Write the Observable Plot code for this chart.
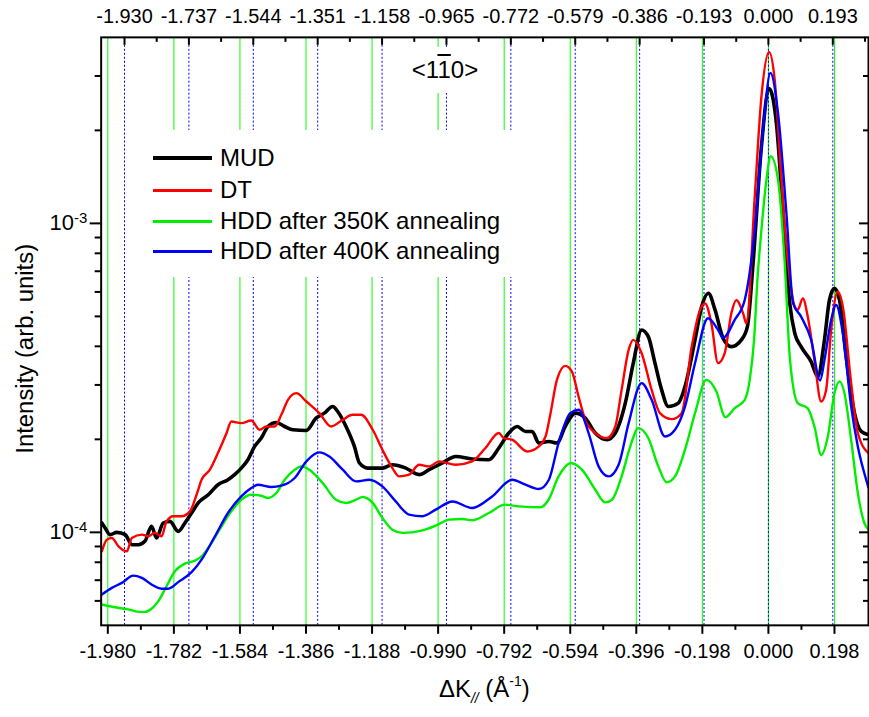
<!DOCTYPE html>
<html>
<head>
<meta charset="utf-8">
<script src="https://cdn.jsdelivr.net/npm/d3@7"></script>
<script src="https://cdn.jsdelivr.net/npm/@observablehq/plot@0.6"></script>
<style>
  html, body { margin: 0; padding: 0; background: #fff; overflow: hidden; }
  #wrap { position: relative; width: 869px; height: 717px; overflow: hidden;
          font-family: Arial, "Liberation Sans", sans-serif; color: #000; }
  #legend { position: absolute; left: 140px; top: 130px; width: 390px; height: 147px; background: #fff; }
  #legend .row { position: absolute; left: 0; height: 30px; display: flex; align-items: center; font-size: 24px; }
  #legend .sw { display: inline-block; width: 59px; margin-left: 13px; margin-right: 8px; }
  #dir { position: absolute; left: 400px; top: 47px; width: 90px; height: 46px; background: #fff;
         font-size: 24px; line-height: 46px; text-align: center; }
  #dir .bar { text-decoration: overline; }
</style>
</head>
<body>
<div id="wrap"></div>
<script>
// ΔK∥ (Å⁻¹) vs intensity profiles along <1-10>
const mud = [
  [-1.998,1.072e-4],[-1.988,1.033e-4],[-1.973,9.83e-5],[-1.953,1.0e-4],[-1.928,9.83e-5],[-1.908,9.12e-5],
  [-1.889,9.12e-5],[-1.869,9.35e-5],[-1.849,1.046e-4],[-1.834,9.59e-5],[-1.814,1.072e-4],[-1.794,1.085e-4],
  [-1.769,1.007e-4],[-1.749,1.072e-4],[-1.729,1.155e-4],[-1.709,1.245e-4],[-1.679,1.323e-4],[-1.650,1.426e-4],
  [-1.620,1.480e-4],[-1.600,1.537e-4],[-1.580,1.614e-4],[-1.560,1.718e-4],[-1.540,1.897e-4],[-1.520,2.019e-4],
  [-1.500,2.201e-4],[-1.475,2.267e-4],[-1.450,2.201e-4],[-1.425,2.148e-4],[-1.385,2.137e-4],[-1.356,2.343e-4],
  [-1.331,2.431e-4],[-1.306,2.553e-4],[-1.291,2.461e-4],[-1.266,2.201e-4],[-1.241,1.897e-4],[-1.226,1.677e-4],
  [-1.201,1.614e-4],[-1.157,1.614e-4],[-1.127,1.655e-4],[-1.087,1.614e-4],[-1.047,1.537e-4],[-1.017,1.595e-4],
  [-0.977,1.677e-4],[-0.937,1.760e-4],[-0.888,1.727e-4],[-0.838,1.718e-4],[-0.808,1.875e-4],[-0.778,2.096e-4],
  [-0.753,2.201e-4],[-0.728,2.121e-4],[-0.708,2.121e-4],[-0.688,1.945e-4],[-0.658,1.969e-4],[-0.634,1.945e-4],
  [-0.609,2.201e-4],[-0.579,2.431e-4],[-0.549,2.343e-4],[-0.519,2.096e-4],[-0.484,1.994e-4],[-0.459,2.096e-4],
  [-0.429,2.62e-4],[-0.405,3.528e-4],[-0.380,4.519e-4],[-0.360,4.30e-4],[-0.340,3.528e-4],[-0.320,2.891e-4],
  [-0.300,2.553e-4],[-0.270,2.62e-4],[-0.250,2.963e-4],[-0.220,4.196e-4],[-0.200,5.38e-4],[-0.180,5.94e-4],
  [-0.160,5.25e-4],[-0.136,4.25e-4],[-0.111,3.99e-4],[-0.081,4.196e-4],[-0.063,4.63e-4],[-0.046,7.42e-4],
  [-0.021,1.769e-3],[0.002,2.731e-3],[0.024,2.105e-3],[0.044,1.077e-3],[0.064,5.51e-4],[0.079,4.41e-4],
  [0.098,3.99e-4],[0.128,3.57e-4],[0.148,3.19e-4],[0.168,4.196e-4],[0.183,5.65e-4],[0.198,6.16e-4],
  [0.213,5.65e-4],[0.233,3.705e-4],[0.258,2.431e-4],[0.278,2.121e-4],[0.300,2.07e-4]
];

const dt = [
  [-1.998,8.68e-5],[-1.983,9.47e-5],[-1.968,9.59e-5],[-1.948,9.01e-5],[-1.923,8.68e-5],[-1.908,9.59e-5],
  [-1.878,9.83e-5],[-1.859,9.71e-5],[-1.839,9.96e-5],[-1.819,9.71e-5],[-1.804,1.085e-4],[-1.784,1.127e-4],
  [-1.759,1.127e-4],[-1.734,1.169e-4],[-1.714,1.323e-4],[-1.699,1.480e-4],[-1.674,1.595e-4],[-1.650,1.805e-4],
  [-1.624,2.096e-4],[-1.610,2.284e-4],[-1.580,2.257e-4],[-1.550,2.301e-4],[-1.525,2.148e-4],[-1.505,2.201e-4],
  [-1.480,2.201e-4],[-1.460,2.401e-4],[-1.440,2.684e-4],[-1.415,2.822e-4],[-1.385,2.651e-4],[-1.346,2.431e-4],
  [-1.311,2.201e-4],[-1.276,2.313e-4],[-1.246,2.401e-4],[-1.221,2.401e-4],[-1.186,2.148e-4],[-1.157,1.851e-4],
  [-1.127,1.614e-4],[-1.107,1.517e-4],[-1.077,1.537e-4],[-1.047,1.655e-4],[-1.017,1.635e-4],[-0.987,1.697e-4],
  [-0.937,1.655e-4],[-0.888,1.697e-4],[-0.848,1.875e-4],[-0.808,2.096e-4],[-0.793,2.019e-4],[-0.768,1.994e-4],
  [-0.723,1.827e-4],[-0.688,1.897e-4],[-0.668,2.043e-4],[-0.653,2.431e-4],[-0.634,3.114e-4],[-0.609,3.457e-4],
  [-0.589,3.313e-4],[-0.569,2.752e-4],[-0.549,2.313e-4],[-0.519,2.096e-4],[-0.484,2.019e-4],[-0.459,2.201e-4],
  [-0.440,2.891e-4],[-0.419,3.894e-4],[-0.405,4.196e-4],[-0.380,3.80e-4],[-0.350,2.891e-4],[-0.325,2.431e-4],
  [-0.290,2.325e-4],[-0.260,2.431e-4],[-0.230,3.99e-4],[-0.205,5.25e-4],[-0.190,5.51e-4],[-0.171,4.75e-4],
  [-0.151,3.528e-4],[-0.131,3.80e-4],[-0.111,5.12e-4],[-0.096,5.65e-4],[-0.076,5.12e-4],[-0.066,4.75e-4],
  [-0.041,1.219e-3],[-0.021,2.566e-3],[0.002,3.586e-3],[0.019,2.905e-3],[0.039,1.380e-3],[0.059,7.42e-4],
  [0.079,5.38e-4],[0.088,5.25e-4],[0.103,5.72e-4],[0.118,4.99e-4],[0.138,3.61e-4],[0.158,2.651e-4],
  [0.173,2.891e-4],[0.188,4.519e-4],[0.208,6.01e-4],[0.223,5.38e-4],[0.248,3.04e-4],[0.268,2.096e-4],
  [0.300,1.805e-4]
];

const hdd350 = [
  [-1.998,5.84e-5],[-1.958,5.72e-5],[-1.918,5.63e-5],[-1.889,5.53e-5],[-1.869,5.53e-5],[-1.849,5.66e-5],
  [-1.829,5.98e-5],[-1.804,6.69e-5],[-1.779,7.48e-5],[-1.749,7.92e-5],[-1.719,8.10e-5],[-1.699,8.36e-5],
  [-1.669,9.24e-5],[-1.639,1.046e-4],[-1.610,1.169e-4],[-1.580,1.275e-4],[-1.550,1.323e-4],[-1.520,1.313e-4],
  [-1.500,1.291e-4],[-1.475,1.340e-4],[-1.450,1.480e-4],[-1.420,1.595e-4],[-1.400,1.635e-4],[-1.376,1.595e-4],
  [-1.336,1.444e-4],[-1.296,1.275e-4],[-1.266,1.245e-4],[-1.236,1.275e-4],[-1.216,1.301e-4],[-1.186,1.245e-4],
  [-1.157,1.113e-4],[-1.127,1.020e-4],[-1.097,9.96e-5],[-1.037,1.015e-4],[-0.997,1.051e-4],[-0.957,1.099e-4],
  [-0.918,1.105e-4],[-0.888,1.094e-4],[-0.838,1.155e-4],[-0.790,1.229e-4],[-0.748,1.213e-4],[-0.683,1.205e-4],
  [-0.659,1.275e-4],[-0.629,1.517e-4],[-0.592,1.677e-4],[-0.559,1.595e-4],[-0.519,1.374e-4],[-0.489,1.250e-4],
  [-0.469,1.275e-4],[-0.440,1.517e-4],[-0.414,1.897e-4],[-0.390,2.175e-4],[-0.360,2.019e-4],[-0.330,1.635e-4],
  [-0.305,1.451e-4],[-0.280,1.517e-4],[-0.250,1.851e-4],[-0.220,2.431e-4],[-0.186,3.114e-4],[-0.156,2.855e-4],
  [-0.129,2.360e-4],[-0.101,2.523e-4],[-0.071,2.684e-4],[-0.056,3.114e-4],[-0.043,4.20e-4],[-0.033,6.56e-4],
  [-0.021,9.51e-4],[-0.006,1.380e-3],[0.007,1.650e-3],[0.029,1.380e-3],[0.049,7.42e-4],[0.064,3.70e-4],
  [0.088,2.62e-4],[0.118,2.52e-4],[0.138,2.20e-4],[0.158,1.78e-4],[0.178,2.04e-4],[0.198,2.82e-4],
  [0.213,3.08e-4],[0.228,2.82e-4],[0.248,1.99e-4],[0.268,1.34e-4],[0.288,1.07e-4],[0.300,1.02e-4]
];

const hdd400 = [
  [-1.998,6.29e-5],[-1.968,6.61e-5],[-1.938,6.86e-5],[-1.904,7.24e-5],[-1.878,7.12e-5],[-1.849,6.78e-5],
  [-1.819,6.57e-5],[-1.799,6.57e-5],[-1.769,6.90e-5],[-1.729,7.43e-5],[-1.699,8.16e-5],[-1.659,9.71e-5],
  [-1.620,1.155e-4],[-1.580,1.307e-4],[-1.550,1.391e-4],[-1.530,1.426e-4],[-1.490,1.402e-4],[-1.460,1.416e-4],
  [-1.420,1.499e-4],[-1.385,1.697e-4],[-1.346,1.814e-4],[-1.316,1.760e-4],[-1.276,1.595e-4],[-1.236,1.462e-4],
  [-1.196,1.480e-4],[-1.157,1.408e-4],[-1.117,1.259e-4],[-1.077,1.141e-4],[-1.037,1.127e-4],[-0.997,1.184e-4],
  [-0.947,1.259e-4],[-0.888,1.199e-4],[-0.828,1.307e-4],[-0.768,1.480e-4],[-0.728,1.426e-4],[-0.688,1.381e-4],
  [-0.658,1.480e-4],[-0.629,1.945e-4],[-0.594,2.431e-4],[-0.569,2.492e-4],[-0.539,2.096e-4],[-0.509,1.635e-4],
  [-0.479,1.517e-4],[-0.449,1.655e-4],[-0.419,2.257e-4],[-0.380,3.040e-4],[-0.350,2.684e-4],[-0.310,2.043e-4],
  [-0.280,2.148e-4],[-0.250,2.553e-4],[-0.220,3.528e-4],[-0.181,4.93e-4],[-0.151,4.52e-4],[-0.136,4.26e-4],
  [-0.101,4.87e-4],[-0.071,5.65e-4],[-0.061,6.40e-4],[-0.041,9.51e-4],[-0.016,2.003e-3],[0.006,3.067e-3],
  [0.029,2.267e-3],[0.054,1.077e-3],[0.074,5.51e-4],[0.098,4.99e-4],[0.128,4.20e-4],[0.155,3.10e-4],
  [0.168,3.61e-4],[0.188,4.87e-4],[0.203,5.44e-4],[0.223,4.41e-4],[0.248,2.553e-4],[0.268,1.897e-4],
  [0.293,1.48e-4],[0.300,1.394e-4]
];

const seriesNames  = ["MUD", "DT", "HDD after 350K annealing", "HDD after 400K annealing"];
const seriesData   = [mud, dt, hdd350, hdd400];
const seriesColors = ["#000000", "#ff0000", "#00ee00", "#0000ff"];
const seriesWidths = [3.6, 2.4, 2.4, 2.4];

// axis ticks and reference lines
const bottomTicks = [-1.980, -1.782, -1.584, -1.386, -1.188, -0.990, -0.792, -0.594, -0.396, -0.198, 0.000, 0.198];
const bottomMinor = [-1.881, -1.683, -1.485, -1.287, -1.089, -0.891, -0.693, -0.495, -0.297, -0.099, 0.099];
const topTicks    = [-1.930, -1.737, -1.544, -1.351, -1.158, -0.965, -0.772, -0.579, -0.386, -0.193, 0.000, 0.193];
const topMinor    = [-1.8335, -1.6405, -1.4475, -1.2545, -1.0615, -0.8685, -0.6755, -0.4825, -0.2895, -0.0965, 0.0965, 0.2895];
const yMajor = [1e-4, 1e-3];
const yMinor = [6e-5, 7e-5, 8e-5, 9e-5, 2e-4, 3e-4, 4e-4, 5e-4, 6e-4, 7e-4, 8e-4, 9e-4, 2e-3, 3e-3];
const greenRefs = bottomTicks;
const blueRefs  = topTicks;

const rows = seriesData.flatMap((s, i) => s.map(([k, v]) => ({series: seriesNames[i], k, v})));

const W = 872, H = 717, mL = 101, mR = 1, mT = 37, mB = 90;
const frameW = W - mL - mR, frameH = H - mT - mB;
const fmt = d => (Math.abs(d) < 1e-9 ? 0 : d).toFixed(3);

const chart = Plot.plot({
  width: W, height: H,
  marginLeft: mL, marginRight: mR, marginTop: mT, marginBottom: mB,
  style: {fontFamily: "Arial, 'Liberation Sans', sans-serif", fontSize: "20px", background: "#fff", color: "#000", overflow: "visible"},
  x: {domain: [-2.0, 0.3]},
  y: {type: "log", domain: [5e-5, 4e-3]},
  marks: [
    Plot.ruleX(greenRefs, {stroke: "#00ff00", strokeWidth: 1}),
    Plot.ruleX(blueRefs, {stroke: "#0000ff", strokeWidth: 1, strokeDasharray: "2,2"}),
    ...seriesNames.map((name, i) =>
      Plot.line(rows.filter(r => r.series === name), {
        x: "k", y: "v", stroke: seriesColors[i], strokeWidth: seriesWidths[i],
        strokeLinejoin: "round", curve: "monotone-x", clip: true
      })),
    Plot.frame({stroke: "#000", strokeWidth: 2}),
    // bottom axis: outward ticks
    Plot.axisX(bottomTicks, {anchor: "bottom", tickSize: 9, tickPadding: 10, strokeWidth: 2, tickFormat: fmt, fontSize: 20, label: null}),
    Plot.axisX(bottomMinor, {anchor: "bottom", tickSize: 5, strokeWidth: 2, tickFormat: () => "", label: null}),
    // top axis: labels above, ticks pointing inward
    Plot.axisX(topTicks, {anchor: "top", tickSize: 0, tickPadding: 14, tickFormat: fmt, fontSize: 20, label: null}),
    Plot.ruleX(topTicks, {strokeWidth: 2, insetBottom: frameH - 8}),
    Plot.ruleX(topMinor, {strokeWidth: 2, insetBottom: frameH - 5}),
    // left axis: outward ticks; right side: inward ticks
    Plot.axisY(yMajor, {anchor: "left", tickSize: 11, tickPadding: 3, strokeWidth: 2,
      tickFormat: d => "10^" + Math.round(Math.log10(d)), fontSize: 22, label: null}),
    Plot.axisY(yMinor, {anchor: "left", tickSize: 6, strokeWidth: 2, tickFormat: () => "", label: null}),
    Plot.ruleY(yMajor, {strokeWidth: 2, insetLeft: frameW - 9}),
    Plot.ruleY(yMinor, {strokeWidth: 2, insetLeft: frameW - 5})
  ]
});

const svg = d3.select(chart);

// exponent superscripts on the decade labels
svg.selectAll('g[aria-label="y-axis tick label"] text').each(function () {
  const s = this.textContent;
  if (!s.includes("^")) return;
  const [base, exp] = s.split("^");
  const t = d3.select(this).text(null);
  t.append("tspan").text(base);
  t.append("tspan").attr("dy", "-0.5em").attr("font-size", "15px").text(exp);
});

// axis titles
svg.append("text")
  .attr("transform", "translate(27,350) rotate(-90)")
  .attr("text-anchor", "middle").attr("dominant-baseline", "middle")
  .attr("font-size", 24).text("Intensity (arb. units)");

const xt = svg.append("text")
  .attr("x", mL + frameW / 2).attr("y", 699)
  .attr("text-anchor", "middle").attr("font-size", 24);
xt.append("tspan").text("\u0394K");
xt.append("tspan").attr("font-size", 14).attr("font-style", "italic").attr("dy", 6).text("//");
xt.append("tspan").attr("dy", -6).text(" (\u00C5");
xt.append("tspan").attr("font-size", 14).attr("dy", -11).text("-1");
xt.append("tspan").attr("dy", 11).text(")");

const wrap = document.getElementById("wrap");
wrap.appendChild(chart);

// legend
const legend = document.createElement("div");
legend.id = "legend";
const rowTops = [13, 45, 76, 106];
seriesNames.forEach((name, i) => {
  const r = document.createElement("div");
  r.className = "row";
  r.style.top = rowTops[i] + "px";
  const sw = document.createElement("span");
  sw.className = "sw";
  sw.style.background = seriesColors[i];
  sw.style.height = (i === 0 ? 4 : 3) + "px";
  const lab = document.createElement("span");
  lab.textContent = name;
  r.appendChild(sw); r.appendChild(lab);
  legend.appendChild(r);
});
wrap.appendChild(legend);

// zone axis label
const dir = document.createElement("div");
dir.id = "dir";
dir.innerHTML = '&lt;1<span class="bar">1</span>0&gt;';
wrap.appendChild(dir);
</script>
</body>
</html>
